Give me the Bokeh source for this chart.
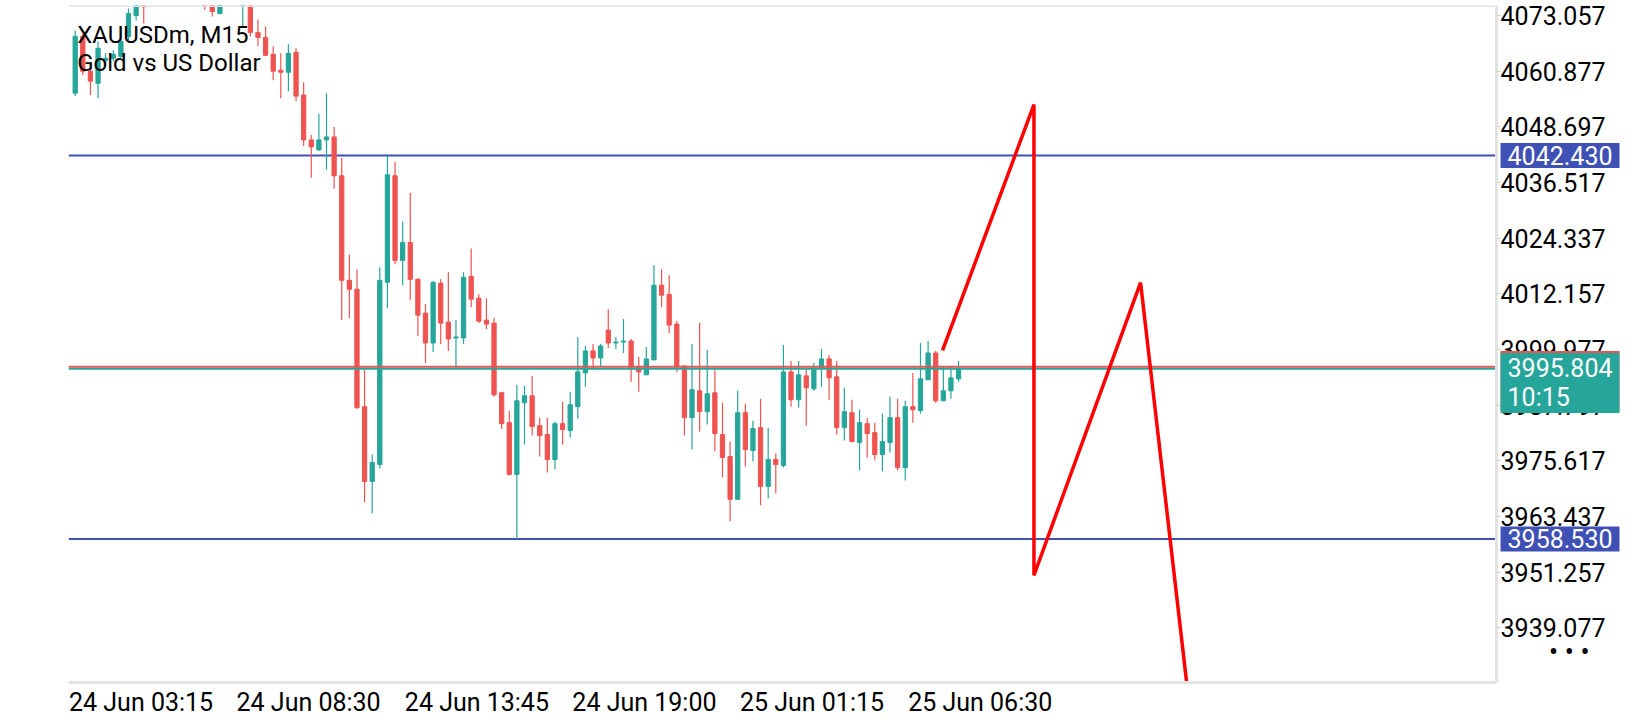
import numpy as np
from bokeh.plotting import figure
from bokeh.models import (ColumnDataSource, Label, FixedTicker, LinearAxis,
                          PrintfTickFormatter, CustomJSTickFormatter, Range1d)
from bokeh.embed import file_html
from bokeh.resources import INLINE

symbol = "XAUUSDm, M15"
description = "Gold vs US Dollar"

# ---- OHLC of the M15 candles (None = candle entirely above the visible area)
opens = [4056.09, 4068.51, 4060.89, 4058.27, 4063.28, 4063.72, 4064.15, 4068.51, 4073.09, 4077.0,
         None, None, None, None, None, None, None, 4078.0, 4077.0, 4073.52,
         None, None, 4076.0, 4077.0, 4069.38, 4068.29, 4064.59, 4061.10, 4060.67, 4065.02,
         4055.66, 4045.85, 4043.67, 4045.85, 4046.51, 4038.01, 4015.13, 4013.17, 3987.47, 3971.13,
         3974.83, 4014.70, 4038.01, 4019.49, 4023.41, 4015.35, 4007.95, 4001.41, 4014.48, 4005.98,
         4002.50, 4002.50, 4016.01, 4011.21, 4006.42, 4005.77, 3990.52, 3983.98, 3972.65, 3988.34,
         3989.86, 3983.33, 3981.37, 3975.92, 3983.76, 3982.24, 3987.47, 3994.87, 3999.67, 3998.14,
         4004.24, 4001.41, 4001.63, 4001.84, 3996.18, 3994.44, 3997.71, 4014.05, 4012.08, 4005.55,
         3996.40, 3985.07, 3990.95, 3986.38, 3990.52, 3981.37, 3976.57, 3967.20, 3986.16, 3977.88,
         3982.89, 3970.04, 3975.92, 3974.61, 3995.09, 3988.99, 3994.22, 3991.39, 3995.96, 3997.92,
         3994.00, 3982.89, 3986.16, 3979.62, 3983.76, 3981.80, 3977.01, 3979.62, 3985.07, 3974.18,
         3987.47, 3986.60, 3993.35, 3999.23, 3988.77, 3990.95, 3993.57]
highs = [4069.82, 4069.16, 4062.63, 4067.42, 4064.81, 4065.46, 4068.07, 4074.61, 4076.5, 4078.0,
         None, None, None, None, None, None, None, 4079.0, 4078.0, 4078.0,
         None, None, 4079.0, 4078.0, 4072.21, 4070.69, 4066.33, 4064.81, 4066.77, 4065.90,
         4058.49, 4046.94, 4051.52, 4056.09, 4048.69, 4041.93, 4020.80, 4017.53, 3995.53, 3977.01,
         4017.97, 4042.37, 4041.06, 4027.99, 4034.31, 4015.57, 4009.91, 4014.92, 4015.35, 4016.88,
         4006.42, 4016.88, 4022.11, 4012.08, 4011.21, 4006.86, 3990.73, 3986.60, 3992.26, 3992.04,
         3994.22, 3985.07, 3985.07, 3984.20, 3988.56, 3990.73, 4002.72, 4000.76, 4001.19, 4001.19,
         4008.82, 4002.72, 4006.64, 4002.28, 3998.36, 4000.54, 4018.40, 4017.53, 4016.22, 4006.20,
         3996.40, 4001.19, 4005.77, 3999.88, 3995.53, 3988.34, 3979.84, 3990.95, 3988.12, 3984.42,
         3989.21, 3982.89, 3977.23, 4000.97, 3997.49, 3997.49, 3995.96, 3997.05, 4000.10, 3998.80,
         3997.49, 3991.61, 3988.99, 3986.81, 3985.07, 3983.98, 3985.94, 3989.65, 3989.21, 3988.77,
         3994.87, 4001.41, 4001.84, 3999.67, 3996.40, 3996.40, 3997.49]
lows = [4055.44, 4060.01, 4055.66, 4055.00, 4062.19, 4063.06, 4063.72, 4067.64, 4072.00, 4071.34,
        None, None, None, None, None, None, None, 4074.40, 4072.87, 4073.30,
        None, None, 4070.69, 4068.51, 4066.33, 4064.15, 4058.92, 4055.00, 4056.53, 4054.35,
        4044.55, 4037.57, 4043.46, 4039.32, 4035.18, 4006.42, 4006.86, 3987.00, 3966.55, 3964.16,
        3973.96, 4009.03, 4018.62, 4014.05, 4010.78, 4002.93, 3997.05, 3999.45, 4001.19, 3999.67,
        3995.75, 4001.19, 4009.25, 4005.77, 4004.46, 3989.65, 3982.67, 3972.43, 3958.49, 3979.19,
        3981.15, 3976.57, 3973.09, 3973.74, 3979.19, 3980.71, 3984.85, 3991.82, 3995.53, 3996.18,
        4000.32, 4000.10, 3999.23, 3992.91, 3990.73, 3994.44, 3997.71, 4009.25, 4003.59, 3995.09,
        3981.15, 3978.10, 3982.02, 3983.55, 3977.66, 3972.00, 3962.41, 3967.20, 3974.40, 3975.48,
        3965.90, 3967.42, 3968.51, 3974.18, 3987.47, 3987.25, 3983.33, 3990.95, 3991.82, 3988.99,
        3981.37, 3980.06, 3979.62, 3973.52, 3976.36, 3975.70, 3973.31, 3977.44, 3973.52, 3971.34,
        3983.98, 3985.94, 3993.35, 3988.34, 3988.77, 3989.21, 3992.91]
closes = [4068.51, 4060.89, 4058.71, 4065.90, 4063.72, 4064.59, 4067.42, 4073.52, 4075.50, 4075.00,
          None, None, None, None, None, None, None, 4076.0, 4073.96, 4077.0,
          None, None, 4078.0, 4069.38, 4068.29, 4064.37, 4060.89, 4060.67, 4064.81, 4055.44,
          4045.85, 4044.33, 4045.85, 4046.51, 4038.01, 4015.13, 4013.17, 3987.25, 3971.13, 3975.27,
          4015.13, 4038.23, 4019.49, 4023.41, 4015.35, 4007.51, 4001.41, 4014.70, 4005.77, 4002.28,
          4002.72, 4015.79, 4011.00, 4006.20, 4005.55, 3990.08, 3983.76, 3972.65, 3988.77, 3989.86,
          3983.11, 3981.15, 3975.92, 3983.76, 3982.46, 3987.90, 3995.09, 3999.67, 3998.14, 4000.76,
          4001.41, 4001.63, 4001.84, 3995.75, 3995.09, 3997.92, 4014.05, 4011.87, 4005.33, 3996.18,
          3985.07, 3991.17, 3986.38, 3990.30, 3981.58, 3976.36, 3967.20, 3986.16, 3978.10, 3982.67,
          3970.04, 3975.92, 3974.83, 3995.09, 3988.99, 3994.44, 3991.61, 3995.96, 3997.92, 3993.78,
          3982.89, 3986.38, 3979.84, 3983.98, 3981.58, 3977.01, 3979.84, 3985.07, 3974.18, 3987.47,
          3986.81, 3993.57, 3999.23, 3988.77, 3990.95, 3993.78, 3995.80]

# ---- axis ticks
time_labels = ["24 Jun 03:15", "24 Jun 08:30", "24 Jun 13:45", "24 Jun 19:00",
               "25 Jun 01:15", "25 Jun 06:30"]
time_tick_bars = [-0.8, 21.2, 43.3, 65.3, 87.3, 109.4]
price_ticks = [4073.057, 4060.877, 4048.697, 4036.517, 4024.337, 4012.157,
               3999.977, 3987.797, 3975.617, 3963.437, 3951.257, 3939.077]

# ---- levels
resistance = 4042.430
support = 3958.530
bid = 3995.804
ask = 3996.200
countdown = "10:15"

# ---- hand-drawn red zig-zag (bar index, price)
zigzag_bar = [113.9, 125.9, 125.9, 139.9, 145.95]
zigzag_price = [3999.82, 4053.59, 3950.58, 4014.63, 3927.12]

UP = "#26a69a"
DOWN = "#ef5350"
BLUE = "#3f51b5"
GRAY = "#e3e3e3"
FONT = "Roboto"

# chart-area geometry (bar-index / price units of the chart frame)
X_LEFT, X_BORDER, X_END = -0.88, 186.65, 205.55
Y_TOP, Y_AXIS, Y_END = 4075.27, 3927.12, 3918.80
HALF_LABEL_BARS = 9.45    # half width of a time label, in bars

o = np.array(opens, dtype=float)
h = np.array(highs, dtype=float)
l = np.array(lows, dtype=float)
c = np.array(closes, dtype=float)
bars = np.arange(len(o))
colors = [UP if (cc >= oo) else DOWN for oo, cc in zip(o, c)]

src = ColumnDataSource(dict(x=bars, high=h, low=l,
                            top=np.fmax(o, c), bottom=np.fmin(o, c), color=colors))

p = figure(width=1640, height=720,
           x_range=Range1d(X_LEFT, X_END), y_range=Range1d(Y_END, Y_TOP),
           output_backend="svg", toolbar_location=None,
           x_axis_location=None, y_axis_location=None,
           min_border_left=68, min_border_right=0, min_border_top=5, min_border_bottom=0)
p.grid.visible = False
p.outline_line_color = None
p.background_fill_color = "white"
p.border_fill_color = "white"

# horizontal levels (end at the chart border)
for lvl in (resistance, support):
    p.segment(x0=X_LEFT, y0=lvl, x1=X_BORDER, y1=lvl, line_color=BLUE, line_width=2)

p.segment(x0="x", y0="low", x1="x", y1="high", line_color="color", line_width=1.2, source=src)
p.vbar(x="x", width=0.56, top="top", bottom="bottom", fill_color="color",
       line_color="color", line_width=1, source=src)

p.segment(x0=X_LEFT, y0=ask, x1=X_BORDER, y1=ask, line_color=DOWN, line_width=2)
p.segment(x0=X_LEFT, y0=bid, x1=X_BORDER, y1=bid, line_color=UP, line_width=2)

p.line(zigzag_bar, zigzag_price, line_color="#ff0000", line_width=3.5)

# right price axis, fixed at the chart border
ya = LinearAxis(fixed_location=X_BORDER, bounds=(Y_AXIS, Y_TOP))
ya.ticker = FixedTicker(ticks=price_ticks)
ya.formatter = PrintfTickFormatter(format="%.3f")
ya.major_label_text_font = FONT
ya.major_label_text_font_size = "25px"
ya.major_label_text_color = "#000000"
ya.axis_line_color = GRAY
ya.axis_line_width = 3
ya.major_tick_line_color = "#cccccc"
ya.major_tick_out = 4
ya.major_tick_in = 0
ya.minor_tick_line_color = None
ya.major_label_standoff = 0
p.add_layout(ya, "right")

# bottom time axis, labels start at their tick
label_centres = [t + HALF_LABEL_BARS for t in time_tick_bars]
xa = LinearAxis(fixed_location=Y_AXIS, bounds=(X_LEFT, X_BORDER))
xa.ticker = FixedTicker(ticks=label_centres)
xa.formatter = CustomJSTickFormatter(args=dict(pos=label_centres, labels=time_labels), code="""
    const k = pos.findIndex((q) => Math.abs(q - tick) < 1e-6);
    return k >= 0 ? labels[k] : "";
""")
xa.major_label_text_font = FONT
xa.major_label_text_font_size = "25px"
xa.major_label_text_color = "#000000"
xa.axis_line_color = GRAY
xa.axis_line_width = 3
xa.major_tick_line_color = None
xa.major_tick_out = 0
xa.major_tick_in = 0
xa.minor_tick_line_color = None
xa.major_label_standoff = 6
p.add_layout(xa, "below")

# top border of the chart area
ta = LinearAxis(fixed_location=Y_TOP, bounds=(X_LEFT, X_BORDER))
ta.ticker = FixedTicker(ticks=[])
ta.major_label_text_font_size = "0px"
ta.axis_line_color = GRAY
ta.axis_line_width = 3
ta.major_tick_line_color = None
ta.minor_tick_line_color = None
p.add_layout(ta, "above")

# title texts
p.add_layout(Label(x=0.26, y=4068.85, text=symbol, text_font=FONT, text_font_size="24px",
                   text_color="#000000", text_baseline="middle", text_align="left"))
p.add_layout(Label(x=0.26, y=4062.70, text=description, text_font=FONT, text_font_size="24px",
                   text_color="#000000", text_baseline="middle", text_align="left"))

# price tags on the right
LX = 187.17
for lvl in (resistance, support):
    p.add_layout(Label(x=LX, y=lvl, text=f"{lvl:.3f}", text_font=FONT,
                       text_font_size="25px", text_color="white", text_baseline="middle",
                       text_align="left", background_fill_color=BLUE, padding=(7, 3)))
p.add_layout(Label(x=LX, y=3999.67, text=f"{bid:.3f}\n{countdown}", text_font=FONT,
                   text_font_size="25px", text_color=DOWN, text_baseline="top",
                   text_line_height=1.0, text_align="left",
                   background_fill_color=DOWN, padding=(7, 1)))
p.add_layout(Label(x=LX, y=3999.23, text=f"{bid:.3f}\n{countdown}", text_font=FONT,
                   text_font_size="25px", text_color="white", text_baseline="top",
                   text_line_height=1.0, text_align="left",
                   background_fill_color=UP, padding=(7, 1)))
p.add_layout(Label(x=196.2, y=3933.87, text="\u2022 \u2022 \u2022", text_font=FONT,
                   text_font_size="27px", text_color="#000000", text_baseline="middle",
                   text_align="center"))

open("out.html", "w").write(file_html(p, INLINE))
